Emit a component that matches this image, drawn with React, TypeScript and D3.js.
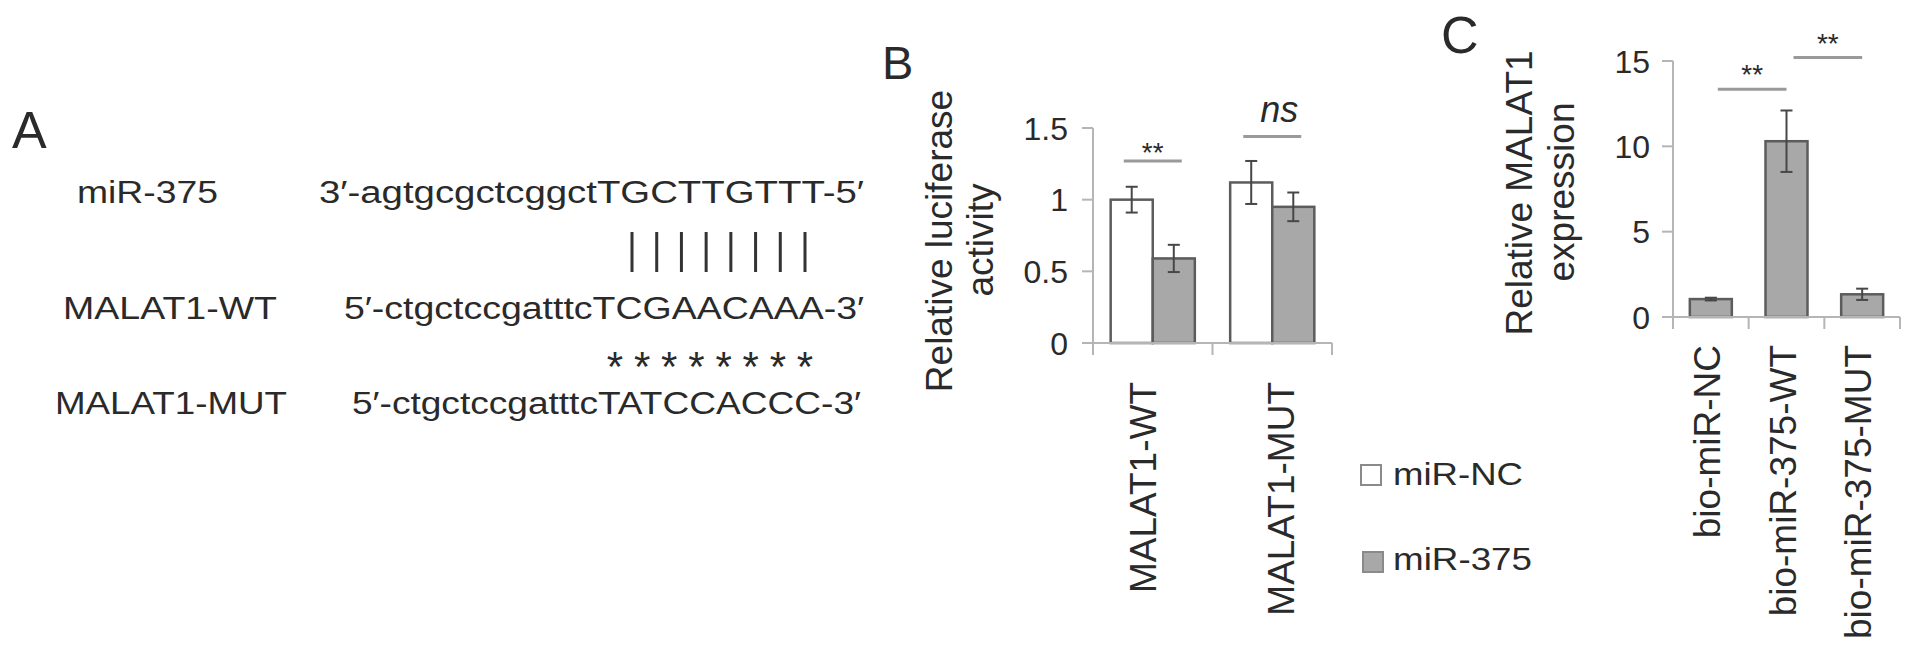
import React from 'react';
import * as d3 from 'd3';

const W = 1913;
const H = 654;
const FONT = '"Liberation Sans", Arial, Helvetica, sans-serif';
const TEXT = '#2a2a2a';
const AXIS = '#b5b5b5';
const BAR_STROKE = '#5c5c5c';
const GRAY = '#a8a8a8';
const ERR = '#474747';
const SIG = '#9a9a9a';

// ---- panel A: sequences
const seqNames = ['miR-375', 'MALAT1-WT', 'MALAT1-MUT'];
const seqStrings = [
  '3′-agtgcgctcggctTGCTTGTTT-5′',
  '5′-ctgctccgatttcTCGAACAAA-3′',
  '5′-ctgctccgatttcTATCCACCC-3′',
];
const pairedBases = 8;
const mutatedBases = 8;

// ---- panel B: luciferase
const groupsB = ['MALAT1-WT', 'MALAT1-MUT'];
const seriesB = ['miR-NC', 'miR-375'];
const miRNC = [1.0, 1.12];
const miRNCErr = [0.09, 0.15];
const miR375 = [0.59, 0.95];
const miR375Err = [0.095, 0.1];
const ticksB = [0, 0.5, 1, 1.5];
const sigB = ['**', 'ns'];
const sigBLevel = [1.27, 1.44];

// ---- panel C: pull-down
const groupsC = ['bio-miR-NC', 'bio-miR-375-WT', 'bio-miR-375-MUT'];
const valuesC = [1.05, 10.3, 1.33];
const errC = [0.08, 1.8, 0.33];
const ticksC = [0, 5, 10, 15];
const sigCPairs = [[0, 1], [1, 2]];
const sigCLevel = [13.35, 15.2];

// layout (pixels)
const rowY = [203, 319, 414];
const nameX = [77, 63, 55];
const nameW = [141, 214, 232];
const seqX = [319, 344, 352];
const seqW = [545, 520, 509];
const labelShiftB = [-10, 9];

function PanelA() {
  const barX = d3.scaleLinear().domain([0, pairedBases - 1]).range([632, 805]);
  const starX = d3.scaleLinear().domain([0, mutatedBases - 1]).range([615, 805]);
  return (
    <g fontFamily={FONT} fill={TEXT}>
      <text x={12} y={148} fontSize={52}>A</text>
      {seqNames.map((n, i) => (
        <g key={n}>
          <text x={nameX[i]} y={rowY[i]} fontSize={31} textLength={nameW[i]} lengthAdjust="spacingAndGlyphs">{n}</text>
          <text x={seqX[i]} y={rowY[i]} fontSize={31} textLength={seqW[i]} lengthAdjust="spacingAndGlyphs">{seqStrings[i]}</text>
        </g>
      ))}
      {d3.range(pairedBases).map(i => (
        <line key={'p' + i} x1={barX(i)} x2={barX(i)} y1={232} y2={272} stroke="#333" strokeWidth={3} />
      ))}
      {d3.range(mutatedBases).map(i => (
        <text key={'m' + i} x={starX(i)} y={381} fontSize={42} textAnchor="middle">*</text>
      ))}
    </g>
  );
}

function ErrorBar({ x, y0, y1 }: { x: number; y0: number; y1: number }) {
  return (
    <g stroke={ERR} strokeWidth={2}>
      <line x1={x} x2={x} y1={y0} y2={y1} />
      <line x1={x - 6} x2={x + 6} y1={y0} y2={y0} />
      <line x1={x - 6} x2={x + 6} y1={y1} y2={y1} />
    </g>
  );
}

function PanelB() {
  const y = d3.scaleLinear().domain([0, 1.5]).range([343, 128]);
  const x = d3.scaleBand().domain(groupsB).range([1093, 1332]).padding(0);
  const sub = d3.scaleBand().domain(seriesB).range([0, x.bandwidth()]).paddingInner(0).paddingOuter(0.42);
  const vals = [miRNC, miR375];
  const errs = [miRNCErr, miR375Err];
  const fills = ['#ffffff', GRAY];
  const bounds = [...groupsB.map(g => x(g)!), x.range()[1]];
  const tick = 11;
  return (
    <g fontFamily={FONT} fill={TEXT}>
      <text x={882} y={79} fontSize={47}>B</text>
      {/* y axis */}
      <line x1={x.range()[0]} x2={x.range()[0]} y1={y(1.5)} y2={y(0)} stroke={AXIS} strokeWidth={2} />
      {ticksB.map(t => (
        <g key={t}>
          <line x1={x.range()[0] - tick} x2={x.range()[0]} y1={y(t)} y2={y(t)} stroke={AXIS} strokeWidth={2} />
          <text x={1068} y={y(t)} dy="0.36em" fontSize={32} textAnchor="end">{t}</text>
        </g>
      ))}
      {/* bars */}
      {groupsB.map((g, gi) => seriesB.map((s, si) => {
        const bx = x(g)! + sub(s)!;
        return (
          <rect key={g + s} x={bx} y={y(vals[si][gi])} width={sub.bandwidth()} height={y(0) - y(vals[si][gi])}
            fill={fills[si]} stroke={BAR_STROKE} strokeWidth={2.5} />
        );
      }))}
      {groupsB.map((g, gi) => seriesB.map((s, si) => {
        const cx = x(g)! + sub(s)! + sub.bandwidth() / 2;
        return <ErrorBar key={'e' + g + s} x={cx} y0={y(vals[si][gi] + errs[si][gi])} y1={y(vals[si][gi] - errs[si][gi])} />;
      }))}
      {/* x axis */}
      <line x1={x.range()[0] - tick} x2={x.range()[1]} y1={y(0)} y2={y(0)} stroke={AXIS} strokeWidth={2} />
      {bounds.map((b, i) => (
        <line key={'xb' + i} x1={b} x2={b} y1={y(0)} y2={y(0) + 12} stroke={AXIS} strokeWidth={2} />
      ))}
      {groupsB.map((g, gi) => {
        const cx = x(g)! + x.bandwidth() / 2 + labelShiftB[gi];
        return (
          <text key={'l' + g} transform={`translate(${cx + 13},${382}) rotate(-90)`} fontSize={37} textAnchor="end">{g}</text>
        );
      })}
      {/* significance */}
      {groupsB.map((g, gi) => {
        const cx = x(g)! + x.bandwidth() / 2;
        const ly = y(sigBLevel[gi]);
        return (
          <g key={'s' + g}>
            <line x1={cx - 29} x2={cx + 29} y1={ly} y2={ly} stroke={SIG} strokeWidth={3} />
            {sigB[gi] === 'ns'
              ? <text x={cx + 7} y={ly - 15} fontSize={36} fontStyle="italic" textAnchor="middle">ns</text>
              : <text x={cx} y={ly + 1} fontSize={28} textAnchor="middle">{sigB[gi]}</text>}
          </g>
        );
      })}
      {/* y label */}
      <text transform={`translate(952,241) rotate(-90)`} fontSize={37} textAnchor="middle">Relative luciferase</text>
      <text transform={`translate(993,240) rotate(-90)`} fontSize={37} textAnchor="middle">activity</text>
      {/* legend */}
      {seriesB.map((s, i) => (
        <g key={'lg' + s}>
          <rect x={1361 + i * 2} y={465 + i * 87} width={20} height={20} fill={fills[i]} stroke="#8a8a8a" strokeWidth={2} />
          <text x={1393} y={485 + i * 85} fontSize={32} textLength={i === 0 ? 130 : 139} lengthAdjust="spacingAndGlyphs">{s}</text>
        </g>
      ))}
    </g>
  );
}

function PanelC() {
  const y = d3.scaleLinear().domain([0, 15]).range([317, 61]);
  const x = d3.scaleBand().domain(groupsC).range([1673, 1900]).paddingInner(0.445).paddingOuter(0.2225);
  const half = (x.step() * x.paddingInner()) / 2;
  const bounds = [...groupsC.map(g => x(g)! - half), x.range()[1]];
  const tick = 11;
  const cx = (i: number) => x(groupsC[i])! + x.bandwidth() / 2;
  return (
    <g fontFamily={FONT} fill={TEXT}>
      <text x={1441} y={53} fontSize={52}>C</text>
      <line x1={1673} x2={1673} y1={y(15)} y2={y(0)} stroke={AXIS} strokeWidth={2} />
      {ticksC.map(t => (
        <g key={t}>
          <line x1={1673 - tick} x2={1673} y1={y(t)} y2={y(t)} stroke={AXIS} strokeWidth={2} />
          <text x={1650} y={y(t)} dy="0.36em" fontSize={32} textAnchor="end">{t}</text>
        </g>
      ))}
      {groupsC.map((g, i) => (
        <rect key={g} x={x(g)!} y={y(valuesC[i])} width={x.bandwidth()} height={y(0) - y(valuesC[i])}
          fill={GRAY} stroke={BAR_STROKE} strokeWidth={2.5} />
      ))}
      {groupsC.map((g, i) => (
        <ErrorBar key={'e' + g} x={cx(i)} y0={y(valuesC[i] + errC[i])} y1={y(valuesC[i] - errC[i])} />
      ))}
      <line x1={1673 - tick} x2={1900} y1={y(0)} y2={y(0)} stroke={AXIS} strokeWidth={2} />
      {bounds.map((b, i) => (
        <line key={'xb' + i} x1={b} x2={b} y1={y(0)} y2={y(0) + 12} stroke={AXIS} strokeWidth={2} />
      ))}
      {groupsC.map((g, i) => (
        <text key={'l' + g} transform={`translate(${cx(i) + 9},${345}) rotate(-90)`} fontSize={37} textAnchor="end">{g}</text>
      ))}
      {sigCPairs.map(([a, b], i) => {
        const ly = y(sigCLevel[i]);
        const x1 = cx(a) + 7;
        const x2 = cx(b);
        return (
          <g key={'s' + i}>
            <line x1={x1} x2={x2} y1={ly} y2={ly} stroke={SIG} strokeWidth={3} />
            <text x={(x1 + x2) / 2} y={ly - 5} fontSize={28} textAnchor="middle">**</text>
          </g>
        );
      })}
      <text transform={`translate(1532,193) rotate(-90)`} fontSize={37} textAnchor="middle">Relative MALAT1</text>
      <text transform={`translate(1574,192) rotate(-90)`} fontSize={37} textAnchor="middle">expression</text>
    </g>
  );
}

export default function App() {
  return (
    <svg width={W} height={H} style={{ position: 'absolute', left: 0, top: 0, background: '#fff' }}>
      <rect width={W} height={H} fill="#fff" />
      <PanelA />
      <PanelB />
      <PanelC />
    </svg>
  );
}
